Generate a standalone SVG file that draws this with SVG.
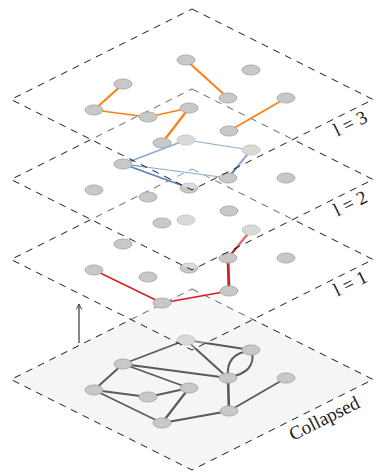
<svg xmlns="http://www.w3.org/2000/svg" width="376" height="472" viewBox="0 0 376 472">
<defs>
<style>
.plane{stroke:#1a1a1a;stroke-width:1;stroke-dasharray:7,6}
.base{fill:#f5f5f5}
.over{fill:#fff;fill-opacity:0.32}
.n{fill:#c8c8c8;stroke:#acacac;stroke-width:1}
.e{fill:none;stroke-linecap:round}
.ec{stroke:#5a5a5a}
.e1{stroke:#d61e1e}
.e2{stroke:#5584c0}
.e3{stroke:#ff7f0e}
.lbl{font-family:"Liberation Serif","DejaVu Serif",serif;font-size:19px;fill:#222}
</style>
<ellipse id="nd" rx="9" ry="5"/>
<marker id="ah" viewBox="0 0 10 10" refX="9" refY="5" markerWidth="7" markerHeight="7" orient="auto" markerUnits="userSpaceOnUse">
<path d="M1,1 L9,5 L1,9" fill="none" stroke="#444" stroke-width="1.4"/>
</marker>
</defs>

<!-- Collapsed layer -->
<g id="layer-collapsed">
<path class="plane base" d="M192,289 L373,379.5 L192,470 L11,379.5 Z"/>
<g id="connectors-collapsed" class="e ec">
<line x1="186" y1="340" x2="251" y2="350" stroke-width="1.8"/>
<line x1="186" y1="340" x2="123" y2="364" stroke-width="1.8"/>
<line x1="186" y1="340" x2="228" y2="378" stroke-width="2"/>
<path d="M228,376 Q226,354 249,351" stroke-width="2"/>
<path d="M230,377 Q256,372 252,352" stroke-width="2"/>
<line x1="123" y1="364" x2="228" y2="378" stroke-width="1.8"/>
<line x1="123" y1="364" x2="189" y2="388" stroke-width="1.8"/>
<line x1="123" y1="364" x2="94" y2="390" stroke-width="2"/>
<line x1="94" y1="390" x2="148" y2="397" stroke-width="1.8"/>
<line x1="94" y1="390" x2="162" y2="423" stroke-width="1.6"/>
<line x1="148" y1="397" x2="189" y2="388" stroke-width="1.8"/>
<line x1="189" y1="388" x2="162" y2="423" stroke-width="2.2"/>
<line x1="228" y1="378" x2="229" y2="411" stroke-width="2.6"/>
<line x1="229" y1="411" x2="162" y2="423" stroke-width="1.8"/>
<line x1="229" y1="411" x2="286" y2="378" stroke-width="1.8"/>
</g>
<g id="c-A"><use href="#nd" class="n" x="186" y="340"/></g>
<g id="c-B"><use href="#nd" class="n" x="251" y="350"/></g>
<g id="c-C"><use href="#nd" class="n" x="123" y="364"/></g>
<g id="c-D"><use href="#nd" class="n" x="228" y="378"/></g>
<g id="c-E"><use href="#nd" class="n" x="286" y="378"/></g>
<g id="c-F"><use href="#nd" class="n" x="94" y="390"/></g>
<g id="c-G"><use href="#nd" class="n" x="148" y="397"/></g>
<g id="c-H"><use href="#nd" class="n" x="189" y="388"/></g>
<g id="c-I"><use href="#nd" class="n" x="229" y="411"/></g>
<g id="c-J"><use href="#nd" class="n" x="162" y="423"/></g>
</g>

<!-- Layer l = 1 -->
<g id="layer-1" transform="translate(0,-120)">
<path class="plane over" d="M192,289 L373,379.5 L192,470 L11,379.5 Z"/>
<g id="connectors-l1" class="e e1">
<line x1="94" y1="390" x2="162" y2="423" stroke-width="1.4"/>
<line x1="162" y1="423" x2="229" y2="411" stroke-width="1.6"/>
<line x1="229" y1="411" x2="228" y2="378" stroke-width="2.8"/>
<line x1="228" y1="378" x2="251" y2="350" stroke-width="2.2"/>
</g>
<g id="l1-A"><use href="#nd" class="n" x="186" y="340"/></g>
<g id="l1-B"><use href="#nd" class="n" x="251" y="350"/></g>
<g id="l1-C"><use href="#nd" class="n" x="123" y="364"/></g>
<g id="l1-D"><use href="#nd" class="n" x="228" y="378"/></g>
<g id="l1-E"><use href="#nd" class="n" x="286" y="378"/></g>
<g id="l1-F"><use href="#nd" class="n" x="94" y="390"/></g>
<g id="l1-G"><use href="#nd" class="n" x="148" y="397"/></g>
<g id="l1-H"><use href="#nd" class="n" x="189" y="388"/></g>
<g id="l1-I"><use href="#nd" class="n" x="229" y="411"/></g>
<g id="l1-J"><use href="#nd" class="n" x="162" y="423"/></g>
</g>

<!-- Layer l = 2 -->
<g id="layer-2" transform="translate(0,-200)">
<path class="plane over" d="M192,289 L373,379.5 L192,470 L11,379.5 Z"/>
<g id="connectors-l2" class="e e2">
<line x1="123" y1="364" x2="186" y2="340" stroke-width="1.5"/>
<line x1="186" y1="340" x2="251" y2="350" stroke-width="1.2"/>
<line x1="251" y1="350" x2="228" y2="378" stroke-width="2"/>
<line x1="123" y1="364" x2="228" y2="378" stroke-width="1.2"/>
<line x1="123" y1="364" x2="189" y2="388" stroke-width="1.8"/>
</g>
<g id="l2-A"><use href="#nd" class="n" x="186" y="340"/></g>
<g id="l2-B"><use href="#nd" class="n" x="251" y="350"/></g>
<g id="l2-C"><use href="#nd" class="n" x="123" y="364"/></g>
<g id="l2-D"><use href="#nd" class="n" x="228" y="378"/></g>
<g id="l2-E"><use href="#nd" class="n" x="286" y="378"/></g>
<g id="l2-F"><use href="#nd" class="n" x="94" y="390"/></g>
<g id="l2-G"><use href="#nd" class="n" x="148" y="397"/></g>
<g id="l2-H"><use href="#nd" class="n" x="189" y="388"/></g>
<g id="l2-I"><use href="#nd" class="n" x="229" y="411"/></g>
<g id="l2-J"><use href="#nd" class="n" x="162" y="423"/></g>
</g>

<!-- Layer l = 3 -->
<g id="layer-3" transform="translate(0,-280)">
<path class="plane over" d="M192,289 L373,379.5 L192,470 L11,379.5 Z"/>
<g id="connectors-l3" class="e e3">
<line x1="123" y1="364" x2="94" y2="390" stroke-width="2"/>
<line x1="94" y1="390" x2="148" y2="397" stroke-width="1.3"/>
<line x1="148" y1="397" x2="189" y2="388" stroke-width="1.3"/>
<line x1="189" y1="388" x2="162" y2="423" stroke-width="2.2"/>
<line x1="186" y1="340" x2="228" y2="378" stroke-width="2"/>
<line x1="286" y1="378" x2="229" y2="411" stroke-width="1.6"/>
</g>
<g id="l3-A"><use href="#nd" class="n" x="186" y="340"/></g>
<g id="l3-B"><use href="#nd" class="n" x="251" y="350"/></g>
<g id="l3-C"><use href="#nd" class="n" x="123" y="364"/></g>
<g id="l3-D"><use href="#nd" class="n" x="228" y="378"/></g>
<g id="l3-E"><use href="#nd" class="n" x="286" y="378"/></g>
<g id="l3-F"><use href="#nd" class="n" x="94" y="390"/></g>
<g id="l3-G"><use href="#nd" class="n" x="148" y="397"/></g>
<g id="l3-H"><use href="#nd" class="n" x="189" y="388"/></g>
<g id="l3-I"><use href="#nd" class="n" x="229" y="411"/></g>
<g id="l3-J"><use href="#nd" class="n" x="162" y="423"/></g>
</g>

<!-- Arrow -->
<g id="arrow">
<line x1="79" y1="343" x2="79" y2="304" stroke="#444" stroke-width="1.3" marker-end="url(#ah)"/>
</g>

<!-- Labels -->
<g id="labels" class="lbl" text-anchor="middle">
<text transform="translate(353,129) rotate(-26.4)">l = 3</text>
<text transform="translate(353,209) rotate(-26.4)">l = 2</text>
<text transform="translate(353,289) rotate(-26.4)">l = 1</text>
<text transform="translate(327,424) rotate(-26.4)">Collapsed</text>
</g>
</svg>
